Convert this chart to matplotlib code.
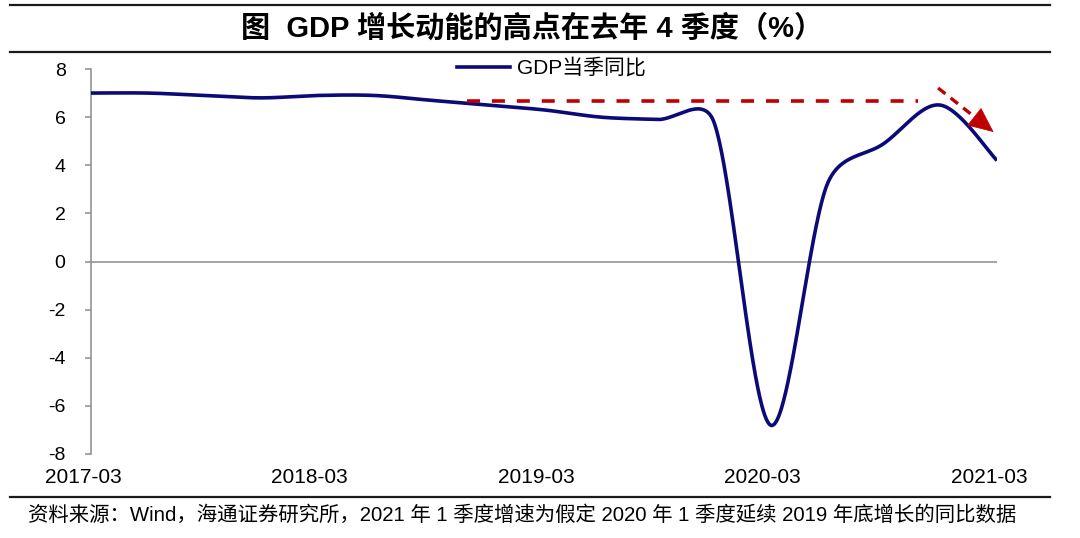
import numpy as np
import matplotlib
matplotlib.use('Agg')
import matplotlib.pyplot as plt
from matplotlib.lines import Line2D
from matplotlib.transforms import ScaledTranslation

# ---------------- data ----------------
quarters = ['2017-03', '2017-06', '2017-09', '2017-12',
            '2018-03', '2018-06', '2018-09', '2018-12',
            '2019-03', '2019-06', '2019-09', '2019-12',
            '2020-03', '2020-06', '2020-09', '2020-12',
            '2021-03']
gdp_yoy = [7.0, 7.0, 6.9, 6.8,
           6.9, 6.9, 6.7, 6.5,
           6.3, 6.0, 5.9, 5.8,
           -6.8, 3.2, 4.9, 6.5,
           4.2]
xtick_labels = ['2017-03', '2018-03', '2019-03', '2020-03', '2021-03']
yticks = [-8, -6, -4, -2, 0, 2, 4, 6, 8]
series_label = 'GDP当季同比'
title = '图  GDP 增长动能的高点在去年 4 季度（%）'
source = '资料来源：Wind，海通证券研究所，2021 年 1 季度增速为假定 2020 年 1 季度延续 2019 年底增长的同比数据'
# annotation arrows (in data coordinates: quarter index, value)
flat_level = 6.68
flat_x = (6.64, 14.61)
down_arrow_start = (14.96, 7.21)
down_arrow_end = (15.94, 5.38)

plt.rcParams['font.family'] = ['Liberation Sans', 'Noto Sans CJK SC']

W, H = 1080, 538
fig = plt.figure(figsize=(W / 100, H / 100), dpi=100)
fig.patch.set_facecolor('white')

ax = fig.add_axes([91 / W, 1 - 454 / H, 906 / W, 385 / H])
x = np.arange(len(gdp_yoy))
ax.set_xlim(0, len(x) - 1)
ax.set_ylim(yticks[0], yticks[-1])


def excel_smooth(px, py, n_pts=80):
    P = np.column_stack([px, py]).astype(float)
    n = len(P)
    out = []
    t = np.linspace(0, 1, n_pts)[:, None]
    for i in range(n - 1):
        p0 = P[i - 1] if i > 0 else P[i]
        p1 = P[i]
        p2 = P[i + 1]
        p3 = P[i + 2] if i + 2 < n else P[i + 1]
        d01 = np.linalg.norm(p1 - p0)
        d12 = np.linalg.norm(p2 - p1)
        d23 = np.linalg.norm(p3 - p2)
        k1 = 1.0 if d01 == 0 else min(1.0, 2 * d12 / (d01 + d12)) ** 0.5
        k2 = 1.0 if d23 == 0 else min(1.0, 2 * d12 / (d12 + d23)) ** 0.5
        c1 = p1 + (p2 - p0) / 6 * k1
        c2 = p2 - (p3 - p1) / 6 * k2
        seg = ((1 - t) ** 3) * p1 + 3 * ((1 - t) ** 2) * t * c1 + 3 * (1 - t) * t ** 2 * c2 + t ** 3 * p2
        out.append(seg if i == 0 else seg[1:])
    return np.vstack(out)


# smooth in display space like Excel
disp = ax.transData.transform(np.column_stack([x, gdp_yoy]))
curve_disp = excel_smooth(disp[:, 0], disp[:, 1])
curve = ax.transData.inverted().transform(curve_disp)

navy = '#0B0B78'
ax.plot(curve[:, 0], curve[:, 1], color=navy, lw=2.6, solid_capstyle='butt',
        label=series_label, zorder=3)

# zero line
ax.axhline(0, color='#8C8C8C', lw=1.1, zorder=1)

# red dashed annotations
red = '#C00000'
ax.plot(list(flat_x), [flat_level, flat_level], color=red, lw=2.6,
        linestyle=(0, (3.6, 3.3)), zorder=4)
sx, sy = down_arrow_start
ex, ey = down_arrow_end
f = 0.80
mx, my = sx + (ex - sx) * f, sy + (ey - sy) * f
ax.plot([sx, mx], [sy, my], color=red, lw=2.4, linestyle=(0, (2.8, 2.0)), zorder=4)
ax.annotate('', xy=down_arrow_end, xytext=(sx + (ex - sx) * 0.7, sy + (ey - sy) * 0.7),
            arrowprops=dict(arrowstyle='-|>,head_length=1.0,head_width=0.45',
                            color=red, lw=0.5, shrinkA=0, shrinkB=0, mutation_scale=17),
            zorder=4)

# axes styling
for s in ['top', 'right', 'bottom']:
    ax.spines[s].set_visible(False)
ax.spines['left'].set_color('#8C8C8C')
ax.spines['left'].set_linewidth(1.1)
ax.set_yticks(yticks)
ax.set_yticklabels([str(v) for v in yticks])
ax.tick_params(axis='y', direction='out', length=4.3, width=1.1, color='#8C8C8C',
               pad=14, labelsize=14, labelcolor='black')
ax.set_xticks(x[::4])
ax.set_xticklabels(xtick_labels)
ax.tick_params(axis='x', length=0, pad=10, labelsize=15, labelcolor='black')
shift = ScaledTranslation(-0.08, 0, fig.dpi_scale_trans)
for lab in ax.get_xticklabels():
    lab.set_transform(lab.get_transform() + shift)

# legend
leg = fig.legend(handles=[Line2D([0], [0], color=navy, lw=2.6)], labels=[series_label],
                 loc='center left', bbox_to_anchor=(457 / W, 1 - 68 / H),
                 frameon=False, fontsize=15, handlelength=2.55, handletextpad=0.35,
                 borderpad=0, borderaxespad=0)

# title and rules
fig.text(532 / W, 1 - 28 / H, title, ha='center', va='center', fontsize=21,
         fontweight='bold', color='black')
for yy in (5, 52, 497):
    fig.add_artist(Line2D([10 / W, 1050 / W], [1 - yy / H, 1 - yy / H],
                          color='#1A1A1A', lw=1.6))
fig.text(28 / W, 1 - 515 / H, source, ha='left', va='center', fontsize=14.7, color='black')

fig.savefig('out.png', dpi=100, facecolor='white')
